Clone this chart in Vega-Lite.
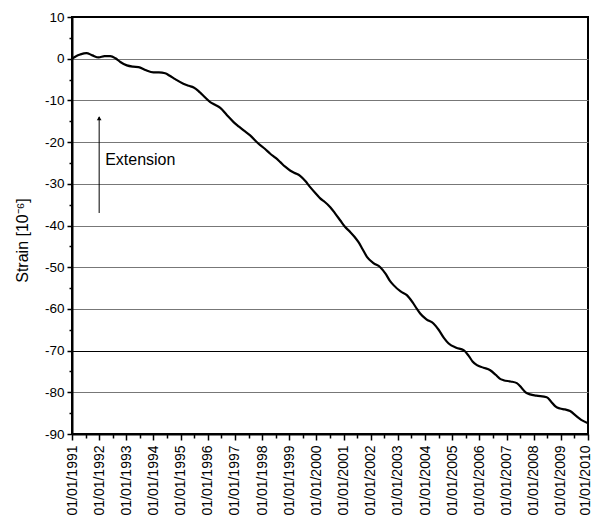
{
  "$schema": "https://vega.github.io/schema/vega-lite/v6.json",
  "width": 516,
  "height": 417,
  "autosize": "none",
  "padding": {"left": 72, "top": 17, "right": 4, "bottom": 92},
  "background": "white",
  "config": {
    "font": "Liberation Sans",
    "view": {"stroke": "black", "strokeWidth": 2}
  },
  "datasets": {
    "strain": [
      {"year": 1991.0, "strain": 0.0},
      {"year": 1991.15, "strain": 0.6},
      {"year": 1991.3, "strain": 1.0},
      {"year": 1991.53, "strain": 1.35},
      {"year": 1991.75, "strain": 0.8},
      {"year": 1991.98, "strain": 0.3},
      {"year": 1992.2, "strain": 0.6},
      {"year": 1992.41, "strain": 0.6},
      {"year": 1992.6, "strain": 0.1},
      {"year": 1992.78, "strain": -0.8},
      {"year": 1993.02, "strain": -1.6},
      {"year": 1993.25, "strain": -1.9},
      {"year": 1993.45, "strain": -2.0},
      {"year": 1993.7, "strain": -2.7},
      {"year": 1994.0, "strain": -3.3},
      {"year": 1994.2, "strain": -3.3},
      {"year": 1994.43, "strain": -3.5},
      {"year": 1994.6, "strain": -4.1},
      {"year": 1994.8, "strain": -4.9},
      {"year": 1995.1, "strain": -6.0},
      {"year": 1995.3, "strain": -6.5},
      {"year": 1995.48, "strain": -6.9},
      {"year": 1995.65, "strain": -7.7},
      {"year": 1995.79, "strain": -8.6},
      {"year": 1996.09, "strain": -10.4},
      {"year": 1996.25, "strain": -11.0},
      {"year": 1996.46, "strain": -11.8},
      {"year": 1996.7, "strain": -13.5},
      {"year": 1996.95, "strain": -15.2},
      {"year": 1997.15, "strain": -16.3},
      {"year": 1997.32, "strain": -17.2},
      {"year": 1997.56, "strain": -18.4},
      {"year": 1997.87, "strain": -20.4},
      {"year": 1998.1, "strain": -21.6},
      {"year": 1998.3, "strain": -22.8},
      {"year": 1998.5, "strain": -23.8},
      {"year": 1998.67, "strain": -24.8},
      {"year": 1998.85, "strain": -25.9},
      {"year": 1999.03, "strain": -26.8},
      {"year": 1999.2, "strain": -27.4},
      {"year": 1999.4, "strain": -28.1},
      {"year": 1999.6, "strain": -29.4},
      {"year": 1999.77, "strain": -30.8},
      {"year": 2000.0, "strain": -32.5},
      {"year": 2000.14, "strain": -33.5},
      {"year": 2000.3, "strain": -34.3},
      {"year": 2000.51, "strain": -35.6},
      {"year": 2000.7, "strain": -37.2},
      {"year": 2000.88, "strain": -38.8},
      {"year": 2001.05, "strain": -40.3},
      {"year": 2001.25, "strain": -41.6},
      {"year": 2001.4, "strain": -42.7},
      {"year": 2001.55, "strain": -44.0},
      {"year": 2001.7, "strain": -45.7},
      {"year": 2001.86, "strain": -47.5},
      {"year": 2002.1, "strain": -49.0},
      {"year": 2002.35, "strain": -50.0},
      {"year": 2002.55, "strain": -51.6},
      {"year": 2002.7, "strain": -53.2},
      {"year": 2002.84, "strain": -54.3},
      {"year": 2003.1, "strain": -55.8},
      {"year": 2003.33, "strain": -56.7},
      {"year": 2003.55, "strain": -58.5},
      {"year": 2003.7, "strain": -60.0},
      {"year": 2003.82, "strain": -61.1},
      {"year": 2004.05, "strain": -62.5},
      {"year": 2004.31, "strain": -63.5},
      {"year": 2004.5, "strain": -65.0},
      {"year": 2004.7, "strain": -67.0},
      {"year": 2004.87, "strain": -68.3},
      {"year": 2005.15, "strain": -69.3},
      {"year": 2005.42, "strain": -69.9},
      {"year": 2005.6, "strain": -71.2},
      {"year": 2005.75, "strain": -72.6},
      {"year": 2005.91, "strain": -73.5},
      {"year": 2006.15, "strain": -74.1},
      {"year": 2006.4, "strain": -74.7},
      {"year": 2006.6, "strain": -75.8},
      {"year": 2006.75, "strain": -76.7},
      {"year": 2006.89, "strain": -77.1},
      {"year": 2007.15, "strain": -77.4},
      {"year": 2007.38, "strain": -77.8},
      {"year": 2007.55, "strain": -78.9},
      {"year": 2007.7, "strain": -80.0},
      {"year": 2007.87, "strain": -80.5},
      {"year": 2008.1, "strain": -80.8},
      {"year": 2008.48, "strain": -81.2},
      {"year": 2008.65, "strain": -82.3},
      {"year": 2008.8, "strain": -83.4},
      {"year": 2008.97, "strain": -83.9},
      {"year": 2009.15, "strain": -84.1},
      {"year": 2009.34, "strain": -84.5},
      {"year": 2009.55, "strain": -85.6},
      {"year": 2009.75, "strain": -86.6},
      {"year": 2010.0, "strain": -87.4}
    ],
    "arrow": [
      {"year": 1992.0, "y1": -37.0, "y2": -14.0}
    ],
    "head": [
      {"year": 1992.0, "strain": -14.3}
    ],
    "note": [
      {"year": 1992.22, "strain": -24.4, "label": "Extension"}
    ]
  },
  "layer": [
    {
      "data": {"name": "strain"},
      "mark": {"type": "line", "color": "black", "strokeWidth": 2.2, "interpolate": "monotone"},
      "encoding": {
        "x": {
          "field": "year", "type": "quantitative",
          "scale": {"domain": [1991, 2010], "nice": false, "zero": false},
          "axis": {
            "title": null,
            "tickCount": 200,
            "values": [1991, 1991.5, 1992, 1992.5, 1993, 1993.5, 1994, 1994.5, 1995, 1995.5, 1996, 1996.5, 1997, 1997.5, 1998, 1998.5, 1999, 1999.5, 2000, 2000.5, 2001, 2001.5, 2002, 2002.5, 2003, 2003.5, 2004, 2004.5, 2005, 2005.5, 2006, 2006.5, 2007, 2007.5, 2008, 2008.5, 2009, 2009.5, 2010],
            "labelExpr": "datum.value % 1 == 0 ? '01/01/' + datum.value : ''",
            "labelAngle": 270,
            "labelAlign": "right",
            "labelBaseline": "middle",
            "labelFontSize": 14,
            "labelColor": "black",
            "labelPadding": 5,
            "labelOffset": {"condition": {"test": "datum.value == 2010", "value": -3}, "value": 0},
            "labelOverlap": false,
            "labelFlush": false,
            "labelBound": false,
            "grid": false,
            "domainColor": "black",
            "domainWidth": 2,
            "tickColor": "black",
            "tickWidth": 1.5,
            "tickSize": {"condition": {"test": "datum.value % 1 != 0", "value": 4}, "value": 6}
          }
        },
        "y": {
          "field": "strain", "type": "quantitative",
          "scale": {"domain": [-90, 10], "nice": false, "zero": false},
          "axis": {
            "title": "Strain [10⁻⁶]",
            "titleFontSize": 16,
            "titleFontWeight": "normal",
            "titleColor": "black",
            "titlePadding": 14,
            "titleY": 223,
            "tickCount": 200,
            "values": [-90, -85, -80, -75, -70, -65, -60, -55, -50, -45, -40, -35, -30, -25, -20, -15, -10, -5, 0, 5, 10],
            "labelExpr": "datum.value % 10 == 0 ? '' + datum.value : ''",
            "labelFontSize": 13.5,
            "labelColor": "black",
            "labelPadding": 3,
            "labelOverlap": false,
            "labelFlush": false,
            "domainColor": "black",
            "domainWidth": 2,
            "tickColor": "black",
            "tickWidth": 1.5,
            "tickSize": {"condition": {"test": "datum.value % 10 != 0", "value": 3}, "value": 5},
            "grid": true,
            "gridWidth": 1,
            "gridOpacity": {"condition": {"test": "datum.value % 10 != 0", "value": 0}, "value": 1},
            "gridColor": {"condition": {"test": "datum.value == -70 || datum.value == 10", "value": "black"}, "value": "#777"}
          }
        }
      }
    },
    {
      "data": {"name": "arrow"},
      "mark": {"type": "rule", "color": "black", "strokeWidth": 1},
      "encoding": {
        "x": {"field": "year", "type": "quantitative"},
        "y": {"field": "y1", "type": "quantitative"},
        "y2": {"field": "y2"}
      }
    },
    {
      "data": {"name": "head"},
      "mark": {"type": "point", "shape": "triangle-up", "filled": true, "color": "black", "size": 22, "opacity": 1},
      "encoding": {
        "x": {"field": "year", "type": "quantitative"},
        "y": {"field": "strain", "type": "quantitative"}
      }
    },
    {
      "data": {"name": "note"},
      "mark": {"type": "text", "align": "left", "baseline": "middle", "fontSize": 16, "color": "black", "font": "Liberation Sans"},
      "encoding": {
        "x": {"field": "year", "type": "quantitative"},
        "y": {"field": "strain", "type": "quantitative"},
        "text": {"field": "label"}
      }
    }
  ]
}
